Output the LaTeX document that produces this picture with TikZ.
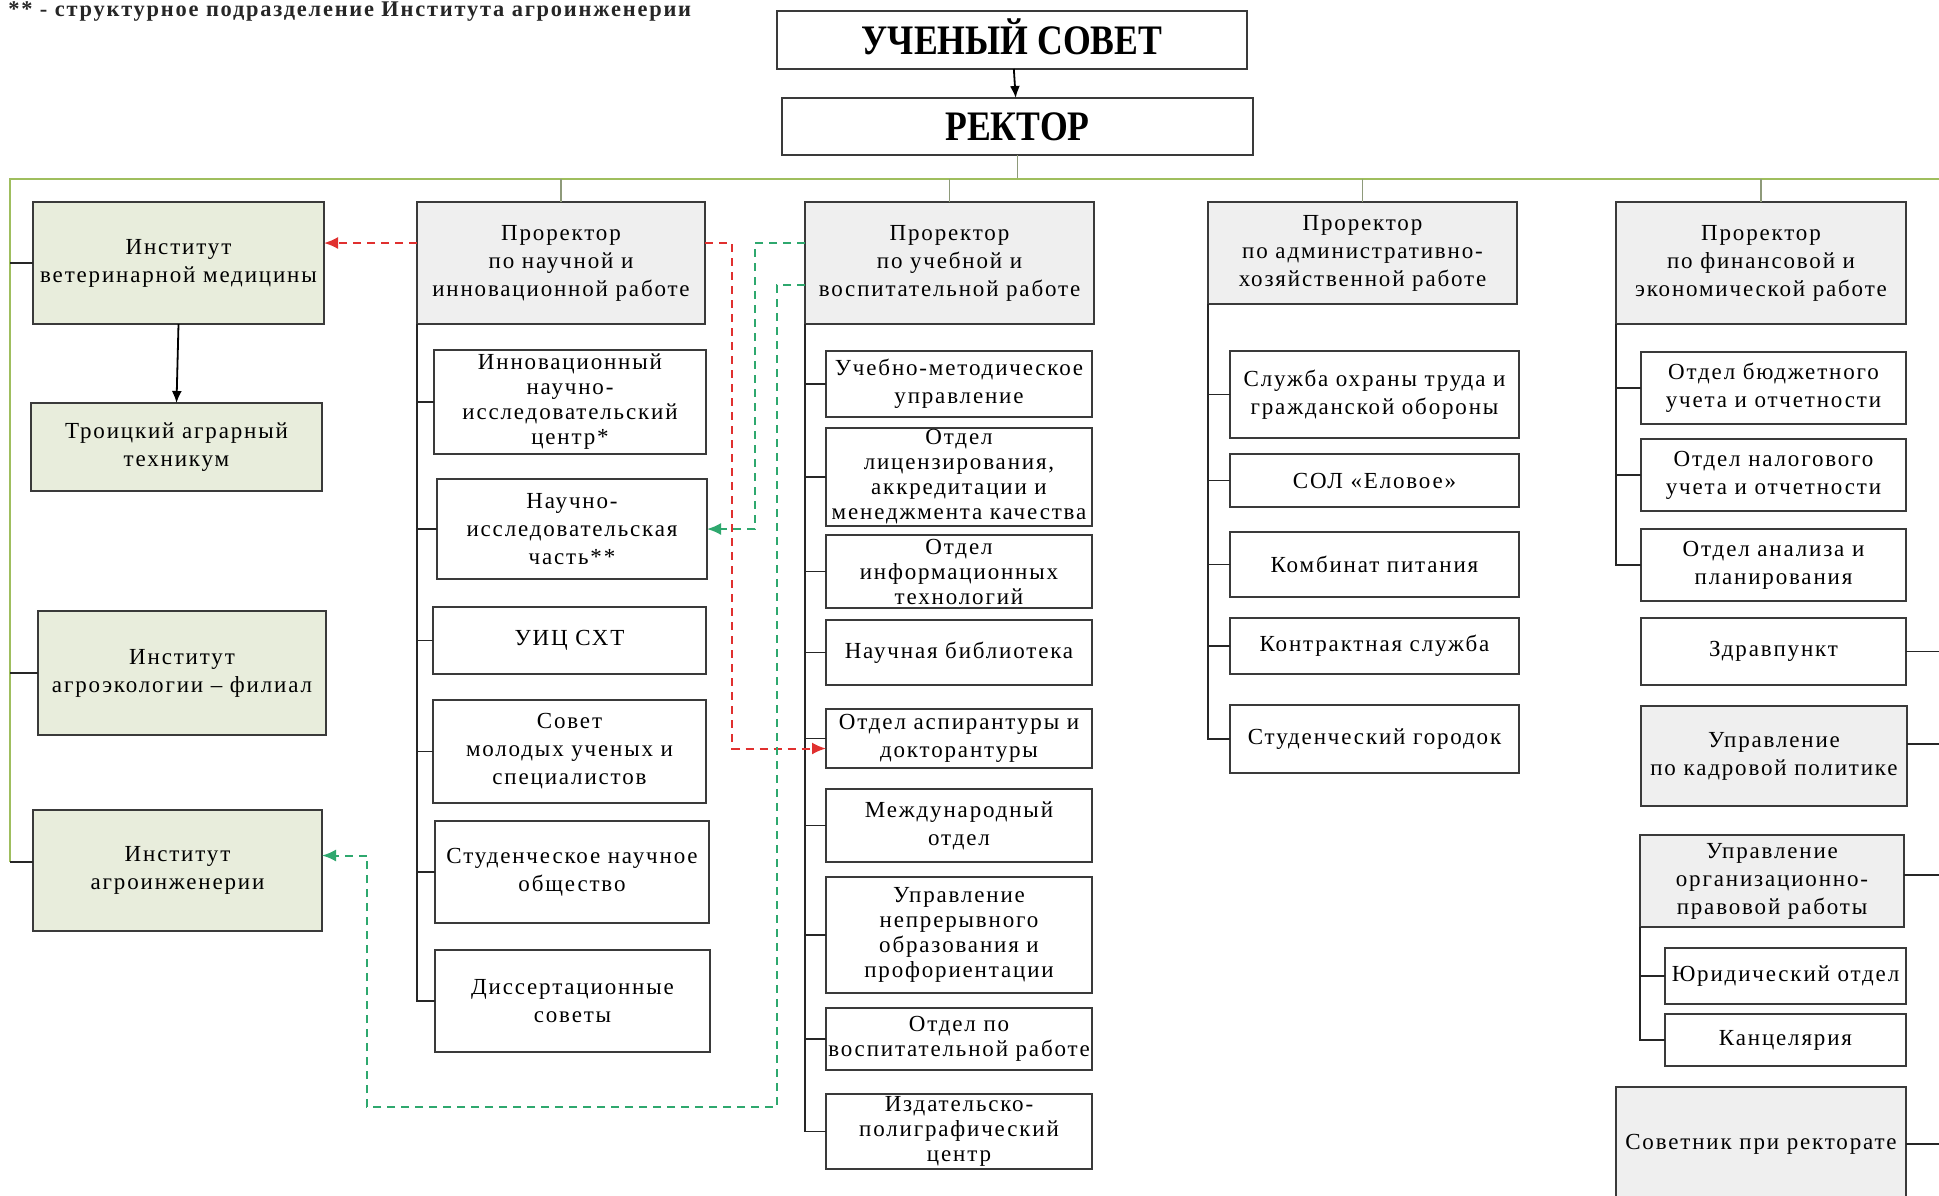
\documentclass[tikz,border=0pt]{standalone}
\usepackage{fontspec}
\setmainfont{Liberation Serif}
\newfontfamily\boxfont[LetterSpace=8]{Liberation Serif}
\newfontfamily\headfont[FakeStretch=0.85]{Liberation Serif}
\usetikzlibrary{arrows.meta}
\definecolor{instfill}{HTML}{E8EDDC}
\definecolor{prfill}{HTML}{EFEFEF}
\definecolor{busgreen}{HTML}{9FBE5E}
\definecolor{dropc}{HTML}{8E9A7A}
\definecolor{reddash}{HTML}{E0302F}
\definecolor{grndash}{HTML}{2EA86E}
\definecolor{edgec}{HTML}{3A3A3A}
\newcommand{\mybox}[7]{\node[#6, minimum width={(#4-(#2))*0.5pt}, minimum height={(#5-(#3))*0.5pt}] (#1) at ({(#2+#4)/2},{(#3+#5)/2}) {#7};}
\begin{document}
\begin{tikzpicture}[x=0.5pt,y=-0.5pt,
  box/.style={draw=edgec, line width=1.1pt, fill=white, inner sep=0pt, outer sep=0pt, align=center, font=\boxfont\fontsize{11.5}{14}\selectfont},
  inst/.style={box, fill=instfill},
  pr/.style={box, fill=prfill},
  tight/.style={font=\boxfont\fontsize{11.5}{12.5}\selectfont},
  head/.style={box, font=\headfont\bfseries\fontsize{21}{22}\selectfont, text height=14pt, text depth=0pt},
  stub/.style={draw=black!85, line width=0.9pt},
  bus/.style={draw=busgreen, line width=1.3pt},
  drop/.style={draw=dropc, line width=0.9pt},
  redl/.style={draw=reddash, line width=1pt, dash pattern=on 4pt off 3pt, -{Latex[length=7pt,width=6pt]}},
  grnl/.style={draw=grndash, line width=1pt, dash pattern=on 4pt off 3pt, -{Latex[length=7pt,width=6pt]}},
  arr/.style={draw=black, line width=0.9pt, -{Latex[length=6pt,width=5pt]}}
]
\fill[white] (0,0) rectangle (1939,1195);
\useasboundingbox (0,0) rectangle (1939,1195);

\node[anchor=west, inner sep=0pt, font=\boxfont\bfseries\fontsize{11.2}{12}\selectfont, text=black!85] (foot) at (8,12) {** - структурное подразделение Института агроинженерии};

% top
\mybox{sovet}{777}{11}{1247}{69}{head}{УЧЕНЫЙ СОВЕТ}
\mybox{rector}{782}{98}{1253}{155}{head}{РЕКТОР}
\draw[arr] (sovet) -- (rector);

% bus
\coordinate (busL) at (10,179);
\coordinate (busR) at (1939,179);
\coordinate (busB) at (10,862);
\draw[drop] (rector.south) -- (rector.south |- busL);
\draw[bus] (busR) -- (busL) -- (busB);

% column 1
\mybox{vet}{33}{202}{324}{324}{inst}{Институт\\ветеринарной медицины}
\mybox{troi}{31}{403}{322}{491}{inst}{Троицкий аграрный\\техникум}
\mybox{eco}{38}{611}{326}{735}{inst}{Институт\\агроэкологии – филиал}
\mybox{eng}{33}{810}{322}{931}{inst}{Институт\\агроинженерии}
\draw[stub] (vet.west) -- (vet.west -| busL);
\draw[stub] (eco.west) -- (eco.west -| busL);
\draw[stub] (busB) -- (busB -| eng.west);
\draw[arr] (vet.south) -- (troi.north);

% column 2
\mybox{pr1}{417}{202}{705}{324}{pr}{Проректор\\по научной и\\инновационной работе}
\mybox{inc}{434}{350}{706}{454}{box,tight}{Инновационный\\научно-\\исследовательский\\центр*}
\mybox{nich}{437}{479}{707}{579}{box}{Научно-\\исследовательская\\часть**}
\mybox{uic}{433}{607}{706}{674}{box}{УИЦ СХТ}
\mybox{smu}{433}{700}{706}{803}{box}{Совет\\молодых ученых и\\специалистов}
\mybox{sno}{435}{821}{709}{923}{box}{Студенческое научное\\общество}
\mybox{dis}{435}{950}{710}{1052}{box}{Диссертационные\\советы}
\draw[drop] (pr1.north) -- (pr1.north |- busL);
\draw[stub] (pr1.south west) |- (dis.west);
\foreach \n in {inc,nich,uic,smu,sno} \draw[stub] (\n.west) -- (\n.west -| pr1.south west);

% column 3
\mybox{pr2}{805}{202}{1094}{324}{pr}{Проректор\\по учебной и\\воспитательной работе}
\mybox{umu}{826}{351}{1092}{417}{box}{Учебно-методическое\\управление}
\mybox{lic}{826}{428}{1092}{526}{box,tight}{Отдел\\лицензирования,\\аккредитации и\\менеджмента качества}
\mybox{it}{826}{535}{1092}{608}{box,tight}{Отдел\\информационных\\технологий}
\mybox{lib}{826}{620}{1092}{685}{box}{Научная библиотека}
\mybox{asp}{826}{709}{1092}{768}{box}{Отдел аспирантуры и\\докторантуры}
\mybox{intl}{826}{789}{1092}{862}{box}{Международный\\отдел}
\mybox{nep}{826}{877}{1092}{993}{box,tight}{Управление\\непрерывного\\образования и\\профориентации}
\mybox{vos}{826}{1008}{1092}{1070}{box,tight}{Отдел по\\воспитательной работе}
\mybox{izd}{826}{1094}{1092}{1169}{box,tight}{Издательско-\\полиграфический\\центр}
\draw[drop] (pr2.north) -- (pr2.north |- busL);
\draw[stub] (pr2.south west) |- (izd.west);
\foreach \n in {umu,lic,it,lib,asp,intl,nep,vos} \draw[stub] (\n.west) -- (\n.west -| pr2.south west);

% column 4
\mybox{pr3}{1208}{202}{1517}{304}{pr}{Проректор\\по административно-\\хозяйственной работе}
\mybox{sot}{1230}{351}{1519}{438}{box}{Служба охраны труда и\\гражданской обороны}
\mybox{sol}{1230}{454}{1519}{507}{box}{СОЛ «Еловое»}
\mybox{komb}{1230}{532}{1519}{597}{box}{Комбинат питания}
\mybox{kontr}{1230}{618}{1519}{674}{box}{Контрактная служба}
\mybox{gor}{1230}{705}{1519}{773}{box}{Студенческий городок}
\draw[drop] (pr3.north) -- (pr3.north |- busL);
\draw[stub] (pr3.south west) |- (gor.west);
\foreach \n in {sot,sol,komb,kontr} \draw[stub] (\n.west) -- (\n.west -| pr3.south west);

% column 5
\mybox{pr4}{1616}{202}{1906}{324}{pr}{Проректор\\по финансовой и\\экономической работе}
\mybox{bud}{1641}{352}{1906}{424}{box}{Отдел бюджетного\\учета и отчетности}
\mybox{nal}{1641}{439}{1906}{511}{box}{Отдел налогового\\учета и отчетности}
\mybox{anal}{1641}{529}{1906}{601}{box}{Отдел анализа и\\планирования}
\draw[drop] (pr4.north) -- (pr4.north |- busL);
\draw[stub] (pr4.south west) |- (anal.west);
\foreach \n in {bud,nal} \draw[stub] (\n.west) -- (\n.west -| pr4.south west);

\mybox{zdr}{1641}{618}{1906}{685}{box}{Здравпункт}
\mybox{kadr}{1641}{706}{1907}{806}{pr}{Управление\\по кадровой политике}
\mybox{orgp}{1640}{835}{1904}{927}{pr}{Управление\\организационно-\\правовой работы}
\mybox{jur}{1665}{948}{1906}{1004}{box}{Юридический отдел}
\mybox{kanc}{1665}{1014}{1906}{1066}{box}{Канцелярия}
\mybox{sov}{1616}{1087}{1906}{1201}{pr}{Советник при ректорате}
\draw[stub] (orgp.south west) |- (kanc.west);
\draw[stub] (jur.west) -- (jur.west -| orgp.south west);
\coordinate (rEdge) at (1939,0);
\draw[stub] (zdr.east) -- (zdr.east -| rEdge);
\draw[stub] ([yshift=6pt]kadr.east) -- ([yshift=6pt]kadr.east -| rEdge);
\draw[stub] ([yshift=3pt]orgp.east) -- ([yshift=3pt]orgp.east -| rEdge);
\draw[stub] (sov.east) -- (sov.east -| rEdge);

% dashed links
\coordinate (r1) at ([yshift=10pt]pr1.west);
\draw[redl] (r1) -- (r1 -| vet.east);
\coordinate (r2) at ([yshift=10pt]pr1.east);
\draw[redl] (r2) -- ++(27,0) |- ([yshift=-5pt]asp.west);
\coordinate (g1) at ([yshift=10pt]pr2.west);
\draw[grnl] (g1) -- ++(-50,0) |- (nich.east);
\coordinate (g2) at ([yshift=-11pt]pr2.west);
\coordinate (g3) at ([yshift=7.5pt]eng.east);
\coordinate (gb) at (367,1107);
\draw[grnl] (g2) -- ++(-28,0) |- (gb) |- (g3);
\end{tikzpicture}
\end{document}
